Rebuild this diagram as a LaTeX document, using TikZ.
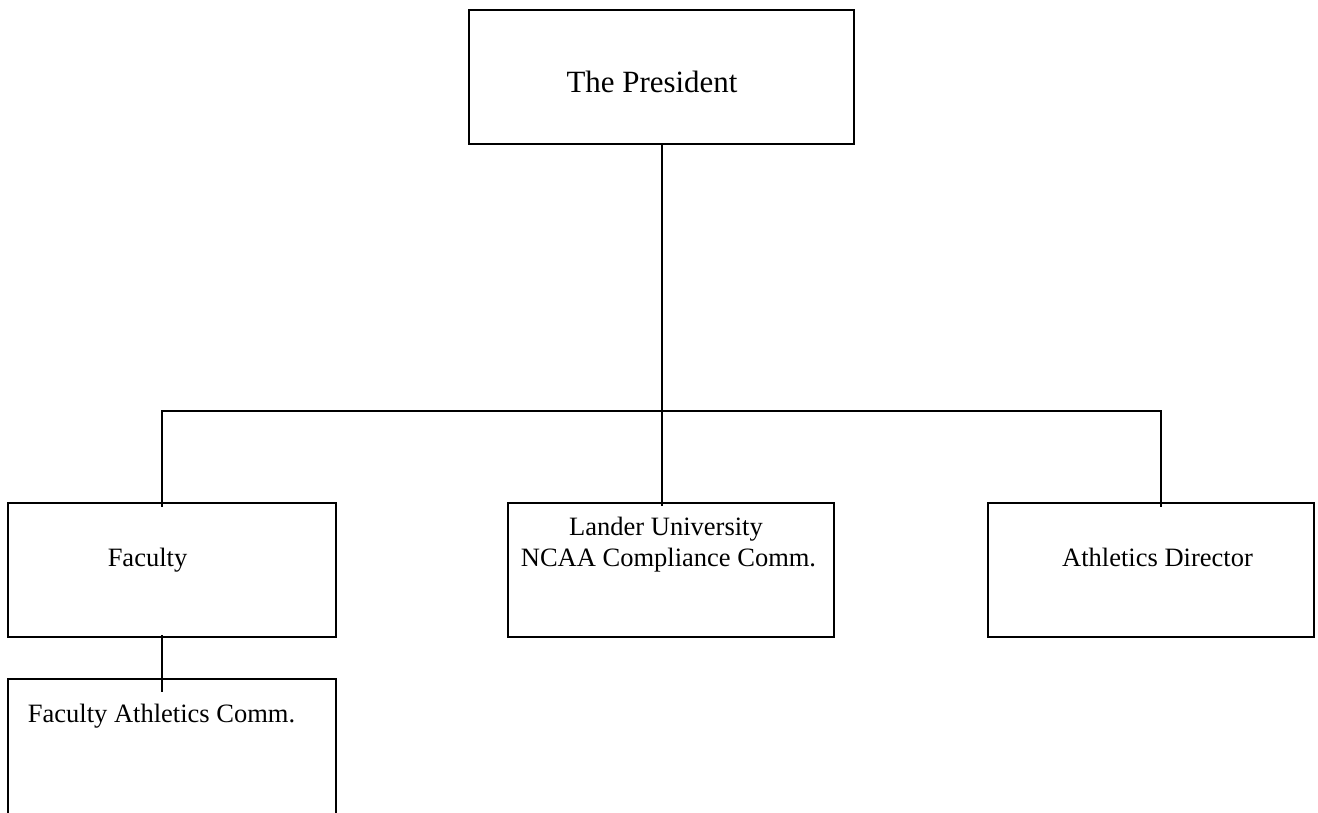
\documentclass[tikz,border=0pt]{standalone}
\usepackage{fontspec}
\setmainfont{Liberation Serif}
\usetikzlibrary{fit,calc}
\tikzset{
  box/.style={draw=black, line width=0.9pt, inner sep=0pt},
  link/.style={draw=black, line width=0.9pt},
  txt/.style={anchor=base, inner sep=0pt, font=\fontsize{12}{13.8}\selectfont},
  bigtxt/.style={anchor=base, inner sep=0pt, font=\fontsize{14}{16.1}\selectfont}
}
\begin{document}
\begin{tikzpicture}[x=0.4528pt, y=-0.4528pt]
\useasboundingbox (0,0) rectangle (1318,813);
\clip (0,0) rectangle (1318,813);
\fill[white] (0,0) rectangle (1318,813);
% boxes
\node[box, fit={(469,10) (854,144)}] (pres) {};
\node[box, fit={(8,503) (336,637)}] (fac) {};
\node[box, fit={(508,503) (834,637)}] (lander) {};
\node[box, fit={(988,503) (1314,637)}] (ad) {};
\node[box, fit={(8,679) (336,840)}] (fac2) {};
% texts
\node[bigtxt] (tpres) at (652,93) {The President};
\node[txt] (tfac) at (147.5,567) {Faculty};
\node[txt] (tl1) at (666,536) {Lander University};
\node[txt] (tl2) at (668.5,567) {NCAA Compliance Comm.};
\node[txt] (tad) at (1157.5,567) {Athletics Director};
\node[txt] (tfac2) at (161.5,723) {Faculty Athletics Comm.};
% connectors
\coordinate (bus) at (662,411);
\coordinate (fin) at (162,507);
\coordinate (adin) at (1161,507);
\coordinate (fout) at (162,635);
\coordinate (f2in) at (162,692);
\draw[link] (pres.south -| bus) -- ($(lander.north -| bus)+(0,4)$);
\draw[link] (fin) |- (bus) -| (adin);
\draw[link] (fout) -- (f2in);
\end{tikzpicture}
\end{document}
